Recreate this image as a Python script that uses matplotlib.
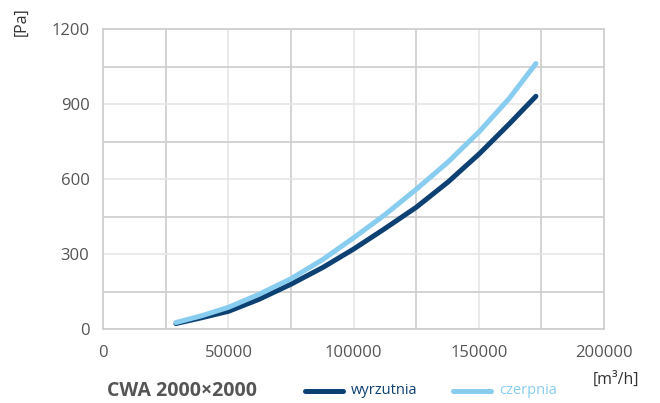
import matplotlib
matplotlib.use("Agg")
import matplotlib.pyplot as plt
from matplotlib.lines import Line2D

plt.rcParams['font.family'] = ['Open Sans', 'DejaVu Sans']

flow = [29000, 39200, 50000, 62200, 75100, 87800, 100000, 112200, 125000, 137800, 150300, 162200, 172800]
wyrzutnia = [23, 46, 72, 120, 181, 248, 321, 401, 488, 590, 703, 822, 932]
czerpnia = [27, 54, 88, 140, 203, 280, 366, 456, 560, 670, 792, 924, 1063]

xticks = [0, 50000, 100000, 150000, 200000]
yticks = [0, 300, 600, 900, 1200]

dark = '#0e4173'
light = '#88cdef'
txt = '#555555'

fig = plt.figure(figsize=(6.6, 4.03), dpi=100)
ax = fig.add_axes([103.3 / 660, 1 - 329.3 / 403, 500.7 / 660, 300 / 403])

ax.set_xlim(0, 200000)
ax.set_ylim(0, 1200)
ax.set_xticks(xticks)
ax.set_yticks(yticks)
ax.set_xticks(range(25000, 200000, 50000), minor=True)
ax.set_yticks(range(150, 1200, 300), minor=True)
ax.grid(which='major', color='#e6e6e6', lw=1.2)
ax.grid(which='minor', color='#cccccc', lw=1.2)
ax.set_axisbelow(True)
for s in ax.spines.values():
    s.set_color('#cccccc')
    s.set_linewidth(1.2)
ax.tick_params(which='both', length=0)
ax.tick_params(axis='both', labelsize=12, labelcolor=txt)
ax.tick_params(axis='x', pad=11)
ax.tick_params(axis='y', pad=10)
ax.set_xticklabels([str(v) for v in xticks])
ax.set_yticklabels([str(v) for v in yticks])

ax.plot(flow, wyrzutnia, color=dark, lw=3.6, solid_capstyle='round', solid_joinstyle='round', zorder=3)
ax.plot(flow, czerpnia, color=light, lw=3.6, solid_capstyle='round', solid_joinstyle='round', zorder=4)

fig.text(22 / 660, 1 - 22 / 403, '[Pa]', rotation=90, ha='center', va='center', fontsize=11.5, color='#333333')
fig.text(616 / 660, 1 - 380 / 403, '[m³/h]', ha='center', va='center', fontsize=11.5, color='#333333')
fig.text(107 / 660, 1 - 391 / 403, 'CWA 2000×2000', ha='left', va='center', fontsize=14,
         fontweight='bold', color='#555555')

fig.add_artist(Line2D([305 / 660, 343 / 660], [1 - 391 / 403] * 2, color=dark, lw=3.6, solid_capstyle='round'))
fig.text(351 / 660, 1 - 390 / 403, 'wyrzutnia', ha='left', va='center', fontsize=10.5, color=dark)
fig.add_artist(Line2D([453 / 660, 491 / 660], [1 - 391 / 403] * 2, color=light, lw=3.6, solid_capstyle='round'))
fig.text(499 / 660, 1 - 390 / 403, 'czerpnia', ha='left', va='center', fontsize=10.5, color=light)

fig.savefig('out.png', dpi=100)
